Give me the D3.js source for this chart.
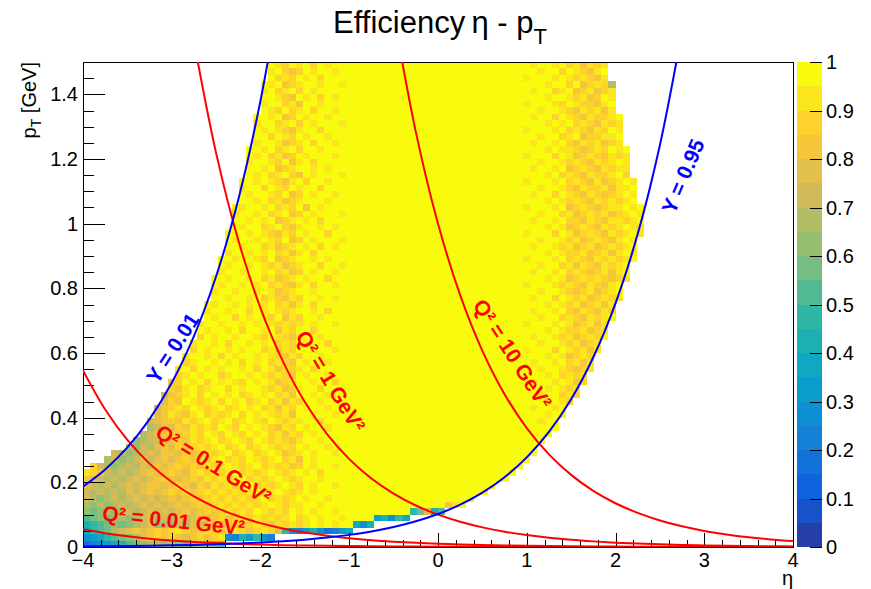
<!DOCTYPE html>
<html><head><meta charset="utf-8">
<script src="https://cdn.jsdelivr.net/npm/d3@7"></script>
<style>body{margin:0;background:#fff}svg{display:block}</style>
</head><body>
<svg id="c" width="871" height="589"></svg>
<script>
// ---------------- DATA ----------------
const etaRange = [-4, 4];
const etaBinCount = [100];
const ptRange = [0, 1.5];
const ptBinCount = [75];
// efficiency band code per cell: index i => efficiency in [i*0.05,(i+1)*0.05); '.' = empty bin
const effCodes = "0123456789ABCDEFGHIJ";
// rows from highest pT bin (top) to lowest pT bin (bottom); 100 eta bins per row (spaces only group by 10)
const effRowsTopDown = [
".......... .......... ......JIHJ IJHJIJJJJJ JJJJJJJJJJ JJJJJJJJJJ JJJIJJIJHI GIHI...... .......... ..........",
".......... .......... ......IJHG HJIJJIJJJJ JJJJJJJJJJ JJJJJJJJJJ JJJJIJJHJI HGIJ...... .......... ..........",
".......... .......... ......JHIH JIJHJJJJJJ JJJJJJJJJJ JJJJJJJJJJ JJIJJJIJIH IHGI...... .......... ..........",
".......... .......... .....JIJGH IJJIJJIJJJ JJJJJJJJJJ JJJJJJJJJJ JJJJJIJJHJ GHIHD..... .......... ..........",
".......... .......... .....IJHIJ HJIJJJJJJJ JJJJJJJJJJ JJJJJJJJJJ JJJIJJHIJG HIGHI..... .......... ..........",
".......... .......... .....JJIHG JIJHJIJJJJ JJJJJJJJJJ JJJJJJJJJJ JJJJJIJJIH IGHJI..... .......... ..........",
".......... .......... .....IJJHI GJJIJJJJJJ JJJJJJJJJJ JJJJJJJJJJ JJIJJJIHJI HHGIJ..... .......... ..........",
".......... .......... .....JIHJH IJHJJIJJJJ JJJJJJJJJJ JJJJJJJJJJ JJJJIJJIHG IHIGI..... .......... ..........",
".......... .......... ....JJIJGH JIJJIJJJJJ JJJJJJJJJJ JJJJJJJJJJ JJJIJJHJIH GIHHIJ.... .......... ..........",
".......... .......... ....IJJHIJ HJIJJJIJJJ JJJJJJJJJJ JJJJJJJJJJ JJJJJIJIJH IHGIHI.... .......... ..........",
".......... .......... ....JIJIHG IJJHJJJJJJ JJJJJJJJJJ JJJJJJJJJJ JJIJJJIJHI HGIHJI.... .......... ..........",
".......... .......... ....JJHJIH JIJJIJJJJJ JJJJJJJJJJ JJJJJJJJJJ JJJJIJJHIJ GHHIIJ.... .......... ..........",
".......... .......... ....IJJIGH IJHJJIJJJJ JJJJJJJJJJ JJJJJJJJJJ JJJIJJIJHG IHIGHI.... .......... ..........",
".......... .......... ...JJIJHIJ HJJIJJJJJJ JJJJJJJJJJ JJJJJJJJJJ JJJJJIJIIH GHIHJIJ... .......... ..........",
".......... .......... ...JIJHIGH JIJJJIJJJJ JJJJJJJJJJ JJJJJJJJJJ JJIJJJHJIG HIHGIHI... .......... ..........",
".......... .......... ...IJJIHJG IJHJJJJJJJ JJJJJJJJJJ JJJJJJJJJJ JJJJIJJIHI HGIHIJI... .......... ..........",
".......... .......... ...JJIJGHI JJIJIJJJJJ JJJJJJJJJJ JJJJJJJJJJ JJJIJJIJGH IHGIHII... .......... ..........",
".......... .......... ...JIJHIJH GJIJJJIJJJ JJJJJJJJJJ JJJJJJJJJJ JJJJJIJHIH GIHHIJH... .......... ..........",
".......... .......... ..JJIJIHGI JHJJIJJJJJ JJJJJJJJJJ JJJJJJJJJJ JJIJJJIJHI HGIGHIJI.. .......... ..........",
".......... .......... ..IJJHJIHJ IJJHJJJJJJ JJJJJJJJJJ JJJJJJJJJJ JJJJIJJIHG IHHIGIIJ.. .......... ..........",
".......... .......... ..JIJJIHJG HJIJJIJJJJ JJJJJJJJJJ JJJJJJJJJJ JJJIJJHJIH GIHGHIJI.. .......... ..........",
".......... .......... ..JJIJHIGH IJJJIJJJJJ JJJJJJJJJJ JJJJJJJJJJ JJJJJIJIHI HGIHIHIJ.. .......... ..........",
".......... .......... .JIJJIJHIH JGJIJJJJJJ JJJJJJJJJJ JJJJJJJJJJ JJIJJJIJGH IHGHIIJIJ. .......... ..........",
".......... .......... .IJJIJHIJG HJIJJJIJJJ JJJJJJJJJJ JJJJJJJJJJ JJJJIJJHIG HIHIGHIJI. .......... ..........",
".......... .......... .JJIJIJGHI JIJHJJJJJJ JJJJJJJJJJ JJJJJJJJJJ JJJIJJIJHH GIHGIIHIJ. .......... ..........",
".......... .......... .JIJJHIJHG IJJIJIJJJJ JJJJJJJJJJ JJJJJJJJJJ JJJJJIJIGH IHGIHIJII. .......... ..........",
".......... .......... JJJIJIHGIH JIJJHJJJJJ JJJJJJJJJJ JJJJJJJJJJ JJIJJJHJIG HIHGIHIJI. .......... ..........",
".......... .......... JIJJIJIHJG HJIJJJIJJJ JJJJJJJJJJ JJJJJJJJJJ JJJJIJJIHI GHIHGIJI.. .......... ..........",
".......... .......... JJIJJHIGHI JIJHJIJJJJ JJJJJJJJJJ JJJJJJJJJJ JJJIJJIHIG HIGHIHIJ.. .......... ..........",
".......... .......... IJJIJIJHIG IJHJJJJJJJ JJJJJJJJJJ JJJJJJJJJJ JJJJJIJIHH IGHIGIJI.. .......... ..........",
".......... .........J JIJJIHJGHI JJIJIJJJJJ JJJJJJJJJJ JJJJJJJJJJ JJIJJJIJHI HGIHIHIJ.. .......... ..........",
".......... .........J IJJIJIHIGH IJJHJJIJJJ JJJJJJJJJJ JJJJJJJJJJ JJJJIJJHIG IHGIHIJ... .......... ..........",
".......... .........I JJIJJIJHIG HJIJJIJJJJ JJJJJJJJJJ JJJJJJJJJJ JJJIJJIJHI HGHIGIJ... .......... ..........",
".......... ........JJ IJJIJHIGHI JIJJHJJJJJ JJJJJJJJJJ JJJJJJJJJJ JJJJJIJIGH IHIHGHI... .......... ..........",
".......... ........JI JJIJIJHIHG IJHJJIJJJJ JJJJJJJJJJ JJJJJJJJJJ JJIJJJIHIH GIHGIJ.... .......... ..........",
".......... ........IJ JIJJIJIGHI JJIJJJJJJJ JJJJJJJJJJ JJJJJJJJJJ JJJJIJJIHG HIGHIJ.... .......... ..........",
".......... ........JJ IJJIJHIHGI HJJIJIJJJJ JJJJJJJJJJ JJJJJJJJJJ JJJIJJHJIH IGHIHI.... .......... ..........",
".......... .......JIJ JIJIJIJHIG IJHJJJJJJJ JJJJJJJJJJ JJJJJJJJJJ JJJJJIJIHI GHIGI..... .......... ..........",
".......... .......IJJ IJJHJIJIHI JJIJHJJJJJ JJJJJJJJJJ JJJJJJJJJJ JJJIJJIJHG IHGIH..... .......... ..........",
".......... .......JIJ JHJIJIHJGI HJJIJJJJJJ JJJJJJJJJJ JJJJJJJJJJ JJJJIJJHIH GIHIJ..... .......... ..........",
".......... ......IJJI JJIJIJIHIH IJIJJIJJJJ JJJJJJJJJJ JJJJJJJJJJ JJIJJJIJIG HIGI...... .......... ..........",
".......... ......JIJJ IJHJJIJGIH JJHJJJJJJJ JJJJJJJJJJ JJJJJJJJJJ JJJJJIJIHH IGHI...... .......... ..........",
".......... ......HJIJ JIJJIHJIHG IJJIJJJJJJ JJJJJJJJJJ JJJJJJJJJJ JJJIJJIHIG HIHJ...... .......... ..........",
".......... .....IJJIJ HJJIJIJHIH JIJJHJJJJJ JJJJJJJJJJ JJJJJJJJJJ JJJJIJJIHI GHI....... .......... ..........",
".......... .....HJIJJ IJIJJHIGIH JJIJJIJJJJ JJJJJJJJJJ JJJJJJJJJJ JJIJJJHJIH IGI....... .......... ..........",
".......... ....IJJIJH JIJJIJIHGI HJJIJJJJJJ JJJJJJJJJJ JJJJJJJJJJ JJJJJIJIGH IH........ .......... ..........",
".......... ....HIJJIJ IJHJIJHIHG JIJJIJJJJJ JJJJJJJJJJ JJJJJJJJJJ JJJIJJIJHI GI........ .......... ..........",
".......... ...IJHJIJI JJIJHJIGIH IJHJJJJJJJ JJJJJJJJJJ JJJJJJJJJJ JJJJIJJIHG HI........ .......... ..........",
".......... ...HIJIJJH IJJIJIHIHG JIJJIJJJJJ JJJJJJJJJJ JJJJJJJJJJ JJJJJIJHIH I......... .......... ..........",
".......... ..GHJIJHJI JIHJIJIGHI JJIJJHJJJJ JJJJJJJJJJ JJJJJJJJJJ JJJIJJIJIG H......... .......... ..........",
".......... ..HGIJHIJJ HJIJJIHIGH IJJHJJJJJJ JJJJJJJJJJ JJJJJJJJJJ JJJJJIJIHI .......... .......... ..........",
".......... .EGHIJHJIJ IJHIJIJHIG JJIJIJJJJJ JJJJJJJJJJ JJJJJJJJJJ JJJJIJJHIH .......... .......... ..........",
".......... .FHGJIHIJH JIJHIJHIGI HJJIJJJJJJ JJJJJJJJJJ JJJJJJJJJJ JJJJJIJIH. .......... .......... ..........",
".......... EGHIHJIHIJ HIJIJHIGIH JIJJIJJJJJ JJJJJJJJJJ JJJJJJJJJJ JJJIJJIJ.. .......... .......... ..........",
".......... FGIHGIJHIH IJHJIJIHIG JJIJJIJJJJ JJJJJJJJJJ JJJJJJJJJJ JJJJJIJJ.. .......... .......... ..........",
".........E FGHGIHIJHI JHIJIHJIHI IJJHJJJJJJ JJJJJJJJJJ JJJJJJJJJJ JJJJIJJ... .......... .......... ..........",
".........D EGFHGIHIHJ IHJIJIHGIH JIJJIJJJJJ JJJJJJJJJJ JJJJJJJJJJ JJJJJJJ... .......... .......... ..........",
"........DE FGHGHIHJIH JIHJIJHIGI HJIJJJJJJJ JJJJJJJJJJ JJJJJJJJJJ JJJJJJ.... .......... .......... ..........",
".......CDE EFGHGIHIJH IJIHJIHIHG IJJIJJJJJJ JJJJJJJJJJ JJJJJJJJJJ JJJJJ..... .......... .......... ..........",
"......DCED FGFHGHIHIJ HIJHIJIHIH JIJJIJJJJJ JJJJJJJJJJ JJJJJJJJJJ JJJJ...... .......... .......... ..........",
"....EDCDEF EGGFHGHIHI JHIJHIJIGH IJIJJIJJJJ JJJJJJJJJJ JJJJJJJJJJ JJJJ...... .......... .......... ..........",
"...DECDEFE FGFGHGIHIJ HIHJIHIJHI GJIJJJJJJJ JJJJJJJJJJ JJJJJJJJJJ JJJ....... .......... .......... ..........",
".HEDCDEDFE GFGHGHGIHI JIHIJHIHIG HJIJJIJJJJ JJJJJJJJJJ JJJJJJJJJJ JJ........ .......... .......... ..........",
"IHGEDEDEFG FGHGFHIHIH IJHIHIJIHI JIJHJJJJJJ JJJJJJJJJJ JJJJJJJJJJ J......... .......... .......... ..........",
"GFEDEDEFEF GHGFGHGIHI HIJHIHIJIH IJJIJJJJJJ JJJJJJJJJJ JJJJJJJJJJ .......... .......... .......... ..........",
"FEDEDEFEFG GFGHGFHGIH IHIJHIHIJI HJIJJIJJJJ JJJJJJJJJJ JJJJJJJJ.. .......... .......... .......... ..........",
"EDEDEDFEFG FGHGHGHIHI HIHIJHIJIH IJIJJJJJJJ JJJJJJJJJJ JJJJJJJ... .......... .......... .......... ..........",
"EDCDEDEFEF EFGFGHGHIH IHIHIJHIHI JIJJIJJJJJ JJJJJJJJJJ JJJJJ..... .......... .......... .......... ..........",
"DCDCDEDEFE FEFGFGHGHI HIHIHIJIHI IJJIJJJJJJ JJJJJJJJJJ JGIJ...... .......... .......... .......... ..........",
"CBCDCDEDEF EFEFGFGHGH IHIHJIHIHJ IJIJJIJJJJ JJJJJJ9BF8 A......... .......... .......... .......... ..........",
"ABCBCDCDEF DEDFEFGFGH GHIHIHIHIJ HIJIJJIJJJ J68597.... .......... .......... .......... .......... ..........",
"89ABCBCDEF CDCEDFEFGF GHGHIHGIHI HIJIJIJJ75 8......... .......... .......... .......... .......... ..........",
"79ABDEFGFG HGHIHGHIHG HIHGHIHF95 46853467.. .......... .......... .......... .......... .......... ..........",
"5679ABCDFG HGHGFGHGHI 5486954... .......... .......... .......... .......... .......... .......... ..........",
"345678ABCD DCDCBCDCBA .......... .......... .......... .......... .......... .......... .......... .........."
];

// curves sampled in eta (pT in GeV); null = outside the frame
const curveEta = [-4,-3.75,-3.5,-3.25,-3,-2.75,-2.5,-2.25,-2,-1.75,-1.5,-1.25,-1,-0.75,-0.5,-0.25,0,0.25,0.5,0.75,1,1.25,1.5,1.75,2,2.25,2.5,2.75,3,3.25,3.5,3.75,4];
const ptQ2_001 = [0.0546,0.04252,0.03312,0.02579,0.02009,0.01564,0.01218,0.00949,0.00739,0.00575,0.00448,0.00349,0.00272,0.00212,0.00165,0.00128,0.001,0.00078,0.00061,0.00047,0.00037,0.00029,0.00022,0.00017,0.00014,0.00011,0.00008,0.00006,0.00005,0.00004,0.00003,0.00002,0.00002];
const ptQ2_01 = [0.546,0.4252,0.3312,0.2579,0.2009,0.1564,0.1218,0.0949,0.0739,0.0575,0.0448,0.0349,0.0272,0.0212,0.0165,0.0128,0.01,0.0078,0.0061,0.0047,0.0037,0.0029,0.0022,0.0017,0.0014,0.0011,0.0008,0.0006,0.0005,0.0004,0.0003,0.0002,0.0002];
const ptQ2_1 = [null,null,null,null,null,1.5643,1.2182,0.9488,0.7389,0.5755,0.4482,0.3490,0.2718,0.2117,0.1649,0.1284,0.1,0.0779,0.0607,0.0472,0.0368,0.0287,0.0223,0.0174,0.0135,0.0105,0.0082,0.0064,0.0050,0.0039,0.0030,0.0024,0.0018];
const ptQ2_10 = [null,null,null,null,null,null,null,null,null,null,null,null,null,null,1.6487,1.2840,1.0,0.7788,0.6065,0.4724,0.3679,0.2865,0.2231,0.1738,0.1353,0.1054,0.0821,0.0639,0.0498,0.0388,0.0302,0.0235,0.0183];
const ptY_001 = [0.1868,0.2399,0.3080,0.3955,0.5078,0.6521,0.8373,1.0751,1.3804,1.7725,null,null,null,null,null,null,null,null,null,null,null,null,null,null,null,null,null,null,null,null,null,null,null];
const ptY_095 = [0.00187,0.0024,0.00308,0.00395,0.00508,0.00652,0.00837,0.01075,0.0138,0.01773,0.02276,0.02923,0.03752,0.04818,0.06187,0.07944,0.102,0.13097,0.16817,0.21593,0.27726,0.35601,0.45713,0.58697,0.75368,0.96775,1.24261,1.59555,null,null,null,null,null];

const curveLabels = ["Y = 0.01","Y = 0.95","Q\u00B2 = 1 GeV\u00B2","Q\u00B2 = 10 GeV\u00B2","Q\u00B2 = 0.1 GeV\u00B2","Q\u00B2 = 0.01 GeV\u00B2"];
const xTickValues = [-4,-3,-2,-1,0,1,2,3,4];
const yTickValues = [0,0.2,0.4,0.6,0.8,1,1.2,1.4];
const zTickValues = [0,0.1,0.2,0.3,0.4,0.5,0.6,0.7,0.8,0.9,1];
const zRange = [0, 1];
const zLevels = [20];

// ---------------- DRAWING ----------------
const FONT = "'Liberation Sans', Arial, Helvetica, sans-serif";
const svg = d3.select("#c");
svg.append("rect").attr("width",871).attr("height",589).attr("fill","#fff");

const frame = {l:83, r:793, t:62, b:547};
const xs = d3.scaleLinear().domain(etaRange).range([frame.l, frame.r]);
const ys = d3.scaleLinear().domain(ptRange).range([frame.b, frame.t]);

// ROOT kBird palette
const birdStops = [0,0.125,0.25,0.375,0.5,0.625,0.75,0.875,1];
const birdR = [0.2082,0.0592,0.0780,0.0232,0.1802,0.5301,0.8186,0.9956,0.9764];
const birdG = [0.1664,0.3599,0.5041,0.6419,0.7178,0.7492,0.7328,0.7862,0.9832];
const birdB = [0.5293,0.8684,0.8385,0.7914,0.6425,0.4662,0.3499,0.1968,0.0539];
const bird = d3.scaleLinear().domain(birdStops)
  .range(birdStops.map((s,i)=>d3.rgb(birdR[i]*255,birdG[i]*255,birdB[i]*255).toString()))
  .interpolate(d3.interpolateRgb);
const nLev = zLevels[0];
const zs = d3.scaleLinear().domain(zRange).range([0, nLev]);
function bandColor(v){
  let i = Math.floor(zs(v)); if (i >= nLev) i = nLev-1; if (i < 0) i = 0;
  return bird((i+0.99)/nLev);
}

// cells
const nEta = etaBinCount[0], nPt = ptBinCount[0];
const etaW = (etaRange[1]-etaRange[0])/nEta, ptW = (ptRange[1]-ptRange[0])/nPt;
const cells = [];
effRowsTopDown.forEach((s, i) => {
  const r = effRowsTopDown.length - 1 - i;
  const str = s.replace(/ /g, "");
  for (let c = 0; c < nEta; c++) {
    const ch = str[c];
    if (!ch || ch === ".") continue;
    const lvl = effCodes.indexOf(ch);
    if (lvl < 0) continue;
    cells.push({c, r, eff: (lvl + 0.5) / effCodes.length});
  }
});
const gCells = svg.append("g").attr("shape-rendering","crispEdges");
gCells.selectAll("rect").data(cells).join("rect")
  .attr("x", d => Math.round(xs(etaRange[0]+d.c*etaW)))
  .attr("width", d => Math.round(xs(etaRange[0]+(d.c+1)*etaW)) - Math.round(xs(etaRange[0]+d.c*etaW)))
  .attr("y", d => Math.round(ys(ptRange[0]+(d.r+1)*ptW)))
  .attr("height", d => Math.round(ys(ptRange[0]+d.r*ptW)) - Math.round(ys(ptRange[0]+(d.r+1)*ptW)))
  .attr("fill", d => bandColor(d.eff));

// axes ticks
const gAx = svg.append("g").attr("stroke","#000").attr("stroke-width",1).attr("shape-rendering","crispEdges");
const xMinor = d3.range(etaRange[0], etaRange[1]+1e-9, 0.2);
const yMinor = d3.range(ptRange[0], ptRange[1]+1e-9, 0.05);
xMinor.forEach(v => gAx.append("line").attr("x1",Math.round(xs(v))+0.5).attr("x2",Math.round(xs(v))+0.5).attr("y1",frame.b).attr("y2",frame.b-7));
xTickValues.forEach(v => gAx.append("line").attr("x1",Math.round(xs(v))+0.5).attr("x2",Math.round(xs(v))+0.5).attr("y1",frame.b).attr("y2",frame.b-14));
yMinor.forEach(v => gAx.append("line").attr("y1",Math.round(ys(v))+0.5).attr("y2",Math.round(ys(v))+0.5).attr("x1",frame.l).attr("x2",frame.l+11));
yTickValues.forEach(v => gAx.append("line").attr("y1",Math.round(ys(v))+0.5).attr("y2",Math.round(ys(v))+0.5).attr("x1",frame.l).attr("x2",frame.l+22));

// frame
svg.append("rect").attr("x",frame.l+0.5).attr("y",frame.t+0.5)
  .attr("width",frame.r-frame.l).attr("height",frame.b-frame.t)
  .attr("fill","none").attr("stroke","#000").attr("stroke-width",1);

// tick labels
const fmtMinus = v => (v < 0 ? "\u2212" + Math.abs(v) : String(v));
svg.append("g").selectAll("text").data(xTickValues).join("text")
  .attr("x", d => xs(d)).attr("y", 567).attr("text-anchor","middle")
  .attr("font-family",FONT).attr("font-size",20).attr("fill","#000").text(fmtMinus);
svg.append("g").selectAll("text").data(yTickValues).join("text")
  .attr("x", 78).attr("y", d => ys(d)+7).attr("text-anchor","end")
  .attr("font-family",FONT).attr("font-size",20).attr("fill","#000").text(d => String(+d.toFixed(1)));

// axis titles
svg.append("text").attr("x",793).attr("y",585).attr("text-anchor","end")
  .attr("font-family",FONT).attr("font-size",20).text("\u03B7");
const yt = svg.append("text").attr("transform","translate(36,62) rotate(-90)").attr("text-anchor","end")
  .attr("font-family",FONT).attr("font-size",20);
yt.append("tspan").text("p");
yt.append("tspan").attr("font-size",14).attr("dy",5).text("T");
yt.append("tspan").attr("dy",-5).text(" [GeV]");

// title
const tt = svg.append("text").attr("x",440).attr("y",33).attr("text-anchor","middle")
  .attr("font-family",FONT).attr("font-size",31);
tt.append("tspan").text("Efficiency\u2009\u03B7 - p");
tt.append("tspan").attr("font-size",22).attr("dy",11).text("T");

// curves
const clip = svg.append("clipPath").attr("id","pclip").append("rect")
  .attr("x",frame.l).attr("y",frame.t).attr("width",frame.r-frame.l).attr("height",frame.b-frame.t);
const gCurves = svg.append("g").attr("clip-path","url(#pclip)");
const line = d3.line().defined(d => d[1] != null)
  .x(d => xs(d[0])).y(d => ys(d[1])).curve(d3.curveCatmullRom.alpha(0.5));
const curveSets = [
  [ptQ2_001, "#ff0000"], [ptQ2_01, "#ff0000"], [ptQ2_1, "#ff0000"], [ptQ2_10, "#ff0000"],
  [ptY_001, "#0000ff"], [ptY_095, "#0000ff"]
];
curveSets.forEach(([vals, col]) => {
  gCurves.append("path").attr("d", line(curveEta.map((e,i)=>[e, vals[i]])))
    .attr("fill","none").attr("stroke",col).attr("stroke-width",2);
});

// curve labels (anchor in data coords, angle in degrees)
const labelLayout = [
  {eta:-2.99, pt:0.615, ang:-57, col:"#0000ff"},
  {eta: 2.76, pt:1.147, ang:-67, col:"#0000ff"},
  {eta:-1.21, pt:0.513, ang: 59, col:"#ff0000"},
  {eta: 0.84, pt:0.597, ang: 57, col:"#ff0000"},
  {eta:-2.53, pt:0.255, ang: 32, col:"#ff0000"},
  {eta:-2.98, pt:0.082, ang:  6, col:"#ff0000"}
];
curveLabels.forEach((t,i) => {
  const L = labelLayout[i];
  svg.append("text")
    .attr("transform", `translate(${xs(L.eta)},${ys(L.pt)}) rotate(${L.ang})`)
    .attr("text-anchor","middle").attr("dy","0.35em")
    .attr("font-family",FONT).attr("font-weight","bold").attr("font-size",21)
    .attr("fill",L.col).text(t);
});

// color palette axis
const pal = {l:797, r:822};
const zy = d3.scaleLinear().domain(zRange).range([frame.b, frame.t]);
const gPal = svg.append("g").attr("shape-rendering","crispEdges");
d3.range(nLev).forEach(i => {
  const v0 = zRange[0] + i*(zRange[1]-zRange[0])/nLev, v1 = zRange[0] + (i+1)*(zRange[1]-zRange[0])/nLev;
  gPal.append("rect").attr("x",pal.l).attr("width",pal.r-pal.l)
    .attr("y",Math.round(zy(v1))).attr("height",Math.round(zy(v0))-Math.round(zy(v1)))
    .attr("fill",bird((i+0.99)/nLev));
});
zTickValues.forEach(v => gPal.append("line").attr("x1",pal.r).attr("x2",pal.r-12)
  .attr("y1",Math.round(zy(v))+0.5).attr("y2",Math.round(zy(v))+0.5).attr("stroke","#000"));
svg.append("g").selectAll("text").data(zTickValues).join("text")
  .attr("x", pal.r+4).attr("y", d => zy(d)+7).attr("text-anchor","start")
  .attr("font-family",FONT).attr("font-size",20).text(d => String(+d.toFixed(1)));
</script>
</body></html>
